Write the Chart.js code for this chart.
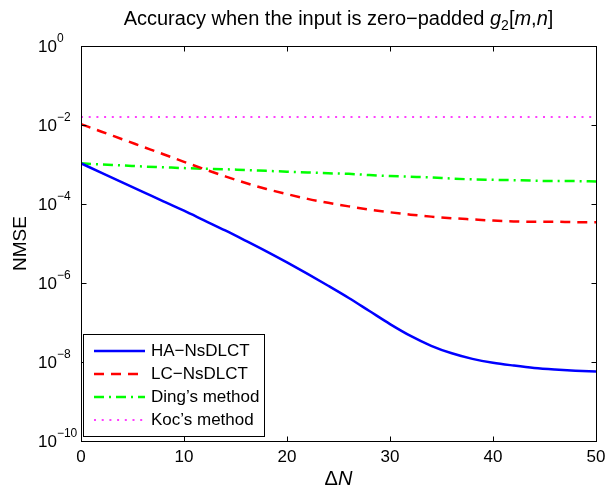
<!DOCTYPE html>
<html>
<head>
<meta charset="utf-8">
<script src="https://cdn.jsdelivr.net/npm/chart.js@4/dist/chart.umd.min.js"></script>
<style>
  html, body { margin: 0; padding: 0; background: #fff; }
  #wrap { width: 605px; height: 491px; position: relative; }
</style>
</head>
<body>
<div id="wrap"><canvas id="nmse"></canvas></div>
<script>
// zero-padding amount ΔN
const deltaN = [0, 2, 4, 6, 8, 10, 12, 14, 16, 18, 20, 22, 24, 26, 28, 30, 32, 34, 36, 38, 40, 42, 44, 46, 48, 50];

// NMSE per method
const haNsdlct = [1.07e-3, 6.17e-4, 3.55e-4, 2.04e-4, 1.17e-4, 6.76e-5, 3.80e-5, 2.14e-5, 1.17e-5, 6.31e-6,
  3.31e-6, 1.70e-6, 8.51e-7, 4.17e-7, 1.95e-7, 9.12e-8, 4.57e-8, 2.57e-8, 1.66e-8, 1.20e-8,
  9.55e-9, 8.13e-9, 7.08e-9, 6.46e-9, 6.03e-9, 5.75e-9];
const lcNsdlct = [1.05e-2, 6.76e-3, 4.37e-3, 2.82e-3, 1.82e-3, 1.17e-3, 7.59e-4, 5.01e-4, 3.39e-4, 2.40e-4,
  1.78e-4, 1.35e-4, 1.07e-4, 8.71e-5, 7.24e-5, 6.17e-5, 5.37e-5, 4.79e-5, 4.37e-5, 4.07e-5,
  3.80e-5, 3.63e-5, 3.55e-5, 3.55e-5, 3.47e-5, 3.47e-5];
const dingMethod = [1.07e-3, 1.0e-3, 9.5e-4, 8.9e-4, 8.5e-4, 8.1e-4, 7.8e-4, 7.6e-4, 7.2e-4, 6.9e-4,
  6.6e-4, 6.3e-4, 6.0e-4, 5.8e-4, 5.4e-4, 5.1e-4, 4.9e-4, 4.7e-4, 4.4e-4, 4.2e-4,
  4.1e-4, 4.0e-4, 3.9e-4, 3.8e-4, 3.8e-4, 3.7e-4];
const kocMethod = [1.6e-2, 1.6e-2, 1.6e-2, 1.6e-2, 1.6e-2, 1.6e-2, 1.6e-2, 1.6e-2, 1.6e-2, 1.6e-2,
  1.6e-2, 1.6e-2, 1.6e-2, 1.6e-2, 1.6e-2, 1.6e-2, 1.6e-2, 1.6e-2, 1.6e-2, 1.6e-2,
  1.6e-2, 1.6e-2, 1.6e-2, 1.6e-2, 1.6e-2, 1.6e-2];

const seriesNames = ['HA\u2212NsDLCT', 'LC\u2212NsDLCT', 'Ding\u2019s method', 'Koc\u2019s method'];

// axis ticks
const xTicks = [0, 10, 20, 30, 40, 50];
const yTickExps = [0, -2, -4, -6, -8, -10];

const FONT = 'Arial, "Liberation Sans", Helvetica, sans-serif';

const toPoints = ys => ys.map((y, i) => ({ x: deltaN[i], y }));

// draws the boxed axes, ticks, labels, title and legend around the plot
const boxAxes = {
  id: 'boxAxes',
  afterDraw(chart) {
    const { ctx, chartArea: a, scales: { x, y } } = chart;
    const L = a.left + 0.5, R = a.right + 0.5, T = a.top + 0.5, B = a.bottom + 0.5;
    ctx.save();

    // tick marks pointing inwards
    ctx.strokeStyle = '#000';
    ctx.lineWidth = 1;
    ctx.beginPath();
    xTicks.forEach(v => {
      const px = Math.round(x.getPixelForValue(v)) + 0.5;
      ctx.moveTo(px, B); ctx.lineTo(px, B - 5);
      ctx.moveTo(px, T); ctx.lineTo(px, T + 5);
    });
    yTickExps.forEach(e => {
      const py = Math.round(y.getPixelForValue(Math.pow(10, e))) + 0.5;
      ctx.moveTo(L, py); ctx.lineTo(L + 5, py);
      ctx.moveTo(R, py); ctx.lineTo(R - 5, py);
    });
    ctx.stroke();

    // frame
    ctx.strokeRect(L, T, R - L, B - T);

    ctx.fillStyle = '#000';

    // x tick labels
    ctx.font = '17px ' + FONT;
    ctx.textAlign = 'center';
    ctx.textBaseline = 'alphabetic';
    xTicks.forEach(v => ctx.fillText(String(v), x.getPixelForValue(v), 462));

    // y tick labels: 10 with superscript exponent
    ctx.textAlign = 'left';
    yTickExps.forEach(e => {
      const py = y.getPixelForValue(Math.pow(10, e));
      ctx.font = '17px ' + FONT;
      ctx.fillText('10', 38, py + 6);
      const w = ctx.measureText('10').width;
      ctx.font = '12px ' + FONT;
      ctx.fillText(e === 0 ? '0' : '\u2212' + Math.abs(e), 38 + w, py - 4);
    });

    // y axis title
    ctx.save();
    ctx.translate(26, (a.top + a.bottom) / 2);
    ctx.rotate(-Math.PI / 2);
    ctx.textAlign = 'center';
    ctx.font = '19px ' + FONT;
    ctx.fillText('NMSE', 0, 0);
    ctx.restore();

    // x axis title: ΔN with italic N
    const xMid = (a.left + a.right) / 2;
    ctx.font = '20px ' + FONT;
    const wDelta = ctx.measureText('\u0394').width;
    ctx.font = 'italic 20px ' + FONT;
    const wN = ctx.measureText('N').width;
    let cx = xMid - (wDelta + wN) / 2;
    ctx.font = '20px ' + FONT;
    ctx.fillText('\u0394', cx, 485);
    ctx.font = 'italic 20px ' + FONT;
    ctx.fillText('N', cx + wDelta, 485);

    // title with italic g, subscript 2 and italic m, n
    const parts = [
      { t: 'Accuracy when the input is zero\u2212padded ', f: '20px ', dy: 0 },
      { t: 'g', f: 'italic 20px ', dy: 0 },
      { t: '2', f: '14px ', dy: 5 },
      { t: '[', f: '20px ', dy: 0 },
      { t: 'm', f: 'italic 20px ', dy: 0 },
      { t: ',', f: '20px ', dy: 0 },
      { t: 'n', f: 'italic 20px ', dy: 0 },
      { t: ']', f: '20px ', dy: 0 }
    ];
    let total = 0;
    parts.forEach(p => { ctx.font = p.f + FONT; p.w = ctx.measureText(p.t).width; total += p.w; });
    cx = xMid - total / 2;
    parts.forEach(p => {
      ctx.font = p.f + FONT;
      ctx.fillText(p.t, cx, 25 + p.dy);
      cx += p.w;
    });

    // legend box in the lower left corner
    const lg = { x: 83.5, y: 334.5, w: 181, h: 102 };
    ctx.fillStyle = '#fff';
    ctx.fillRect(lg.x, lg.y, lg.w, lg.h);
    ctx.strokeStyle = '#000';
    ctx.lineWidth = 1;
    ctx.strokeRect(lg.x, lg.y, lg.w, lg.h);
    ctx.font = '17px ' + FONT;
    ctx.textBaseline = 'middle';
    chart.data.datasets.forEach((ds, i) => {
      const ry = 351 + i * 23;
      ctx.strokeStyle = ds.borderColor;
      ctx.lineWidth = ds.borderWidth;
      ctx.setLineDash(ds.borderDash || []);
      ctx.beginPath();
      ctx.moveTo(94, ry); ctx.lineTo(145, ry);
      ctx.stroke();
      ctx.setLineDash([]);
      ctx.fillStyle = '#000';
      ctx.fillText(ds.label, 151, ry);
    });

    ctx.restore();
  }
};

const line = (label, data, color, width, dash) => ({
  label,
  data: toPoints(data),
  borderColor: color,
  borderWidth: width,
  borderDash: dash,
  pointRadius: 0,
  fill: false,
  cubicInterpolationMode: 'monotone'
});

new Chart(document.getElementById('nmse'), {
  type: 'line',
  data: {
    datasets: [
      line(seriesNames[0], haNsdlct, '#0000ff', 2.5, []),
      line(seriesNames[1], lcNsdlct, '#ff0000', 2.5, [10, 7]),
      line(seriesNames[2], dingMethod, '#00ff00', 2.5, [10, 5, 2, 5]),
      line(seriesNames[3], kocMethod, '#ff00ff', 1.5, [2, 5.7])
    ]
  },
  plugins: [boxAxes],
  options: {
    animation: false,
    responsive: true,
    maintainAspectRatio: false,
    layout: { padding: { left: 81, right: 9, top: 46, bottom: 50 } },
    plugins: {
      legend: { display: false },
      title: { display: false },
      tooltip: { enabled: false }
    },
    scales: {
      x: { type: 'linear', min: 0, max: 50, display: false },
      y: { type: 'logarithmic', min: 1e-10, max: 1, display: false }
    }
  }
});
</script>
</body>
</html>
